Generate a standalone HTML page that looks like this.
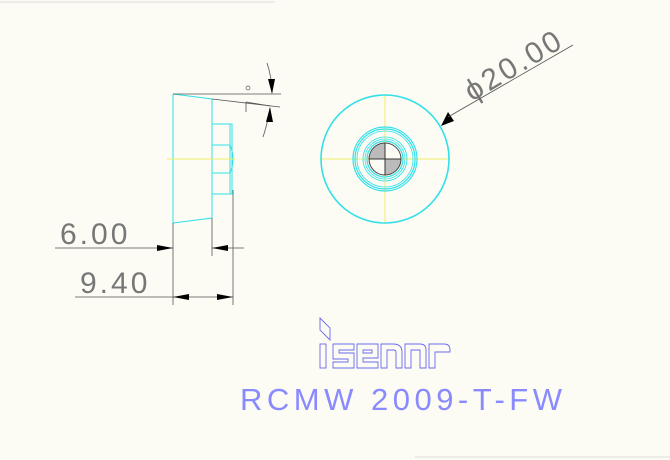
<!DOCTYPE html>
<html><head><style>
html,body{margin:0;padding:0;background:#fcfcf4;}
svg{display:block;}
</style></head><body>
<svg width="670" height="460" viewBox="0 0 670 460" xmlns="http://www.w3.org/2000/svg">
<rect width="670" height="460" fill="#fcfcf4"/>
<line x1="0" y1="2" x2="275" y2="2" stroke="#ddd" stroke-width="1"/>
<line x1="415" y1="457" x2="670" y2="457" stroke="#ddd" stroke-width="1"/>
<!-- side view -->
<g stroke="#33e0e8" stroke-width="1" fill="none">
<polyline points="173,94 212,99 212,218 173,223 173,94"/>
<rect x="212" y="124" width="20" height="70"/>
<line x1="212" y1="145" x2="230" y2="145"/>
<line x1="212" y1="173" x2="230" y2="173"/>
<path d="M230,145 Q236,159 230,173"/>
<line x1="230" y1="124" x2="230" y2="194"/>
</g>
<line x1="167" y1="159" x2="235" y2="159" stroke="#eeee66" stroke-width="1"/>
<g stroke="#555" stroke-width="0.8" fill="none">
<line x1="173" y1="94" x2="281" y2="94"/>
<line x1="212" y1="99" x2="280" y2="107"/>
<line x1="173" y1="223" x2="173" y2="305"/>
<line x1="212" y1="218" x2="212" y2="256"/>
<line x1="233" y1="190" x2="233" y2="305"/>
<line x1="55" y1="248" x2="173" y2="248"/>
<line x1="212" y1="248" x2="244" y2="248"/>
<line x1="75" y1="297" x2="233" y2="297"/>
<path d="M267,63 Q272,78 272,93"/>
<path d="M263,137 Q268,122 270,108"/>
<path d="M246,102 L246,112 M246,102 L270,106"/>
</g>
<circle cx="248" cy="88" r="2" fill="none" stroke="#555" stroke-width="0.7"/>
<g fill="#000">
<polygon points="173,248 157,245 157,251"/>
<polygon points="212,248 228,245 228,251"/>
<polygon points="173,297 189,294 189,300"/>
<polygon points="233,297 217,294 217,300"/>
<polygon points="272,94 268,79 275,79"/>
<polygon points="270,107 266,122 273,122"/>
<polygon points="441,126 448,112 454,121"/>
</g>
<g font-family="Liberation Sans, sans-serif" fill="#777" font-size="30" font-weight="normal" style="letter-spacing:3px">
<text x="60" y="244">6.00</text>
<text x="80" y="293">9.40</text>
<text transform="translate(472,102) rotate(-31)" x="0" y="0">ϕ20.00</text>
</g>
<line x1="448" y1="117" x2="573" y2="45" stroke="#555" stroke-width="0.8"/>
<!-- front view -->
<g stroke="#eeee66" stroke-width="1">
<line x1="320" y1="159" x2="450" y2="159"/>
<line x1="385" y1="94" x2="385" y2="224"/>
</g>
<g fill="none" stroke="#33e0e8">
<circle cx="385" cy="159" r="64" stroke-width="1.6"/>
<circle cx="385" cy="159" r="32" stroke-width="1.2"/>
<circle cx="385" cy="159" r="30" stroke-width="1.2"/>
<circle cx="385" cy="159" r="28" stroke-width="0.8"/>
<circle cx="385" cy="159" r="22" stroke-width="0.8"/>
<circle cx="385" cy="159" r="20" stroke-width="0.8"/>
<circle cx="385" cy="159" r="18" stroke-width="1.2"/>
</g>
<path d="M385,159 L385,143 A16,16 0 0 0 369,159 Z" fill="#bbb"/>
<path d="M385,159 L385,175 A16,16 0 0 0 401,159 Z" fill="#bbb"/>
<circle cx="385" cy="159" r="16" fill="none" stroke="#444" stroke-width="1"/>
<line x1="369" y1="159" x2="401" y2="159" stroke="#333"/>
<line x1="385" y1="143" x2="385" y2="175" stroke="#333"/>
<!-- logo -->
<g fill="none" stroke="#6a6af0" stroke-width="0.9">
<polygon points="320,318 330,328 330,340 320,330"/>
<rect x="320" y="344" width="6" height="24"/>
<path d="M333,344 H354 V350 H339 V353 H354 V368 H333 V362 H348 V359 H333 Z"/>
<path d="M357,344 H378 V358 H363 V362 H378 V368 H357 Z M363,350 V353 H372 V350 Z"/>
<path d="M381,344 H393 Q402,344 402,352 V368 H396 V352 Q396,350 393,350 H387 V368 H381 Z"/>
<path d="M405,344 H420 Q426,344 426,350 V368 H420 V350 H411 V368 H405 Z"/>
<path d="M429,344 H444 Q450,344 450,350 V352 H435 V368 H429 Z"/>
</g>
<text x="240" y="410" font-family="Liberation Sans, sans-serif" font-size="31" fill="#8a8aff" style="letter-spacing:4.5px">RCMW 2009-T-FW</text>
</svg>
</body></html>
